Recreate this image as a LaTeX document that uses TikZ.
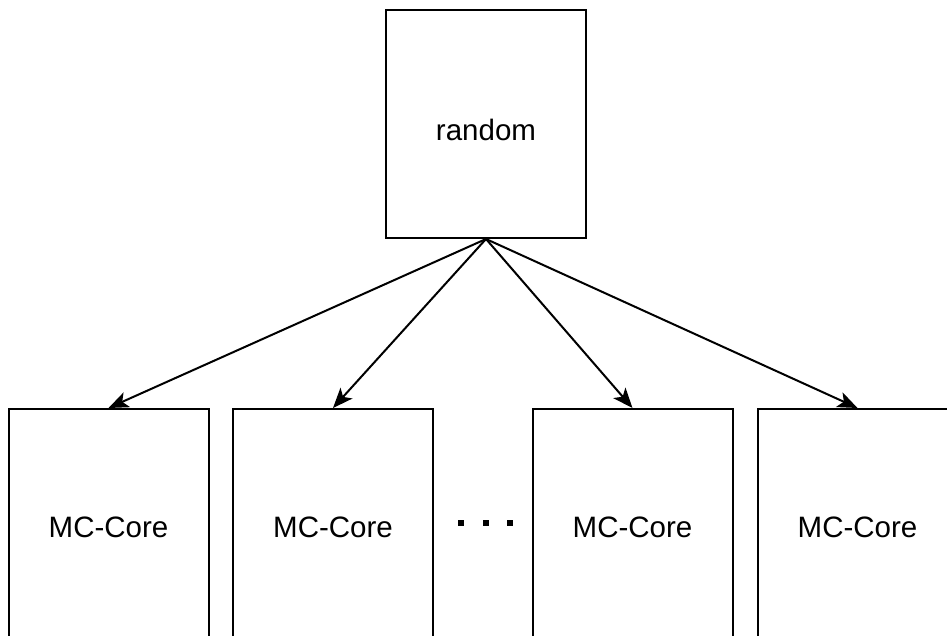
\documentclass[tikz,border=0pt]{standalone}
\usepackage{fontspec}
\setmainfont{Liberation Sans}
\usetikzlibrary{arrows.meta}
\tikzset{
  box/.style={draw=black, line width=2pt, fill=white, minimum width=200pt, inner sep=0pt, font=\fontsize{29.5}{32}\selectfont},
  core/.style={box, minimum height=236pt},
  conn/.style={draw=black, line width=2pt, -{Stealth[length=20pt,width=16pt,inset=5pt]}},
  dotsq/.style={fill=black, minimum size=6.5pt, inner sep=0pt}
}
\begin{document}
\begin{tikzpicture}[x=1pt,y=-1pt]
\useasboundingbox (0,0) rectangle (947,636);
\clip (0,0) rectangle (947,636);
\node[box, minimum height=228pt] (rand) at (486,124) {\raisebox{-6pt}[\height][\depth]{random}};
\node[core] (c1) at (108.5,527) {MC-Core};
\node[core] (c2) at (333,527) {MC-Core};
\node[core] (c3) at (632.5,527) {MC-Core};
\node[core] (c4) at (857.5,527) {MC-Core};
\node[dotsq] (d1) at (461,523) {};
\node[dotsq] (d2) at (486,523) {};
\node[dotsq] (d3) at (510,523) {};
\draw[conn] (rand.south) -- (c1.north);
\draw[conn] (rand.south) -- (c2.north);
\draw[conn] (rand.south) -- (c3.north);
\draw[conn] (rand.south) -- (c4.north);
\end{tikzpicture}
\end{document}
